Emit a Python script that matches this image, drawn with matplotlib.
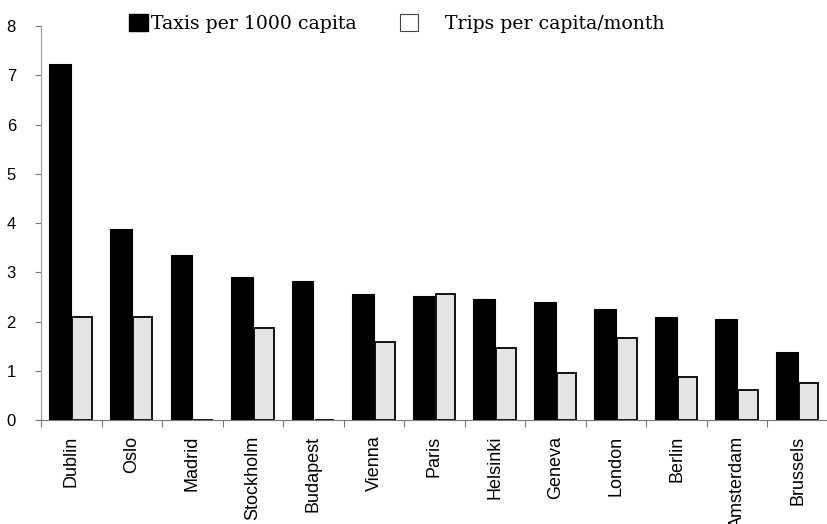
import matplotlib
matplotlib.use("Agg")
import matplotlib.pyplot as plt
import numpy as np
from matplotlib.patches import Patch

cities = ["Dublin", "Oslo", "Madrid", "Stockholm", "Budapest", "Vienna", "Paris",
          "Helsinki", "Geneva", "London", "Berlin", "Amsterdam", "Brussels"]
taxis = [7.23, 3.88, 3.35, 2.90, 2.83, 2.57, 2.52, 2.46, 2.40, 2.25, 2.09, 2.05, 1.38]
trips = [2.10, 2.10, 0.0, 1.88, 0.0, 1.58, 2.57, 1.46, 0.95, 1.66, 0.87, 0.61, 0.75]
yticks = [0, 1, 2, 3, 4, 5, 6, 7, 8]
legend_labels = ["Taxis per 1000 capita", "Trips per capita/month"]

fig = plt.figure(figsize=(8.28, 5.24), dpi=100)
ax = fig.add_axes([0.0495, 0.198, 0.9505, 0.752])

x = np.arange(len(cities))
w = 0.36
ax.bar(x - 0.18, taxis, width=w, color="black", edgecolor="black", linewidth=0.8)
ax.bar(x + 0.18, trips, width=w * 0.9, color="#e4e4e4", edgecolor="black", linewidth=1.3)

ax.set_xlim(-0.5, 12.3)
ax.set_ylim(0, 8)
ax.set_yticks(yticks)
ax.set_yticklabels([str(v) for v in yticks], fontsize=12, family="Liberation Sans")
ax.set_xticks(x)
ax.set_xticklabels(cities, rotation=90, fontsize=13, family="Liberation Sans")
ax.set_xticks(np.arange(len(cities) + 1) - 0.5, minor=True)
ax.tick_params(axis="x", which="major", length=0, pad=11)
ax.tick_params(axis="x", which="minor", length=5, color="#777777", width=0.8)
ax.tick_params(axis="y", length=4, color="#777777", width=0.8, pad=14)

for s in ["top", "right"]:
    ax.spines[s].set_visible(False)
ax.spines["left"].set_color("#999999")
ax.spines["left"].set_linewidth(0.8)
ax.spines["bottom"].set_color("#777777")
ax.spines["bottom"].set_linewidth(0.8)

font = {"family": "DejaVu Serif", "size": 13.6}
h1 = [Patch(facecolor="black", edgecolor="black")]
h2 = [Patch(facecolor="white", edgecolor="#444444", linewidth=0.8)]
leg1 = fig.legend(h1, legend_labels[:1], loc="upper left", bbox_to_anchor=(0.135, 1.006),
                  frameon=False, handlelength=1.0, handleheight=1.0,
                  handletextpad=0.15, prop=font)
leg2 = fig.legend(h2, legend_labels[1:], loc="upper left", bbox_to_anchor=(0.462, 1.006),
                  frameon=False, handlelength=1.0, handleheight=1.0,
                  handletextpad=1.4, prop=font)

fig.savefig("out.png", dpi=100)
